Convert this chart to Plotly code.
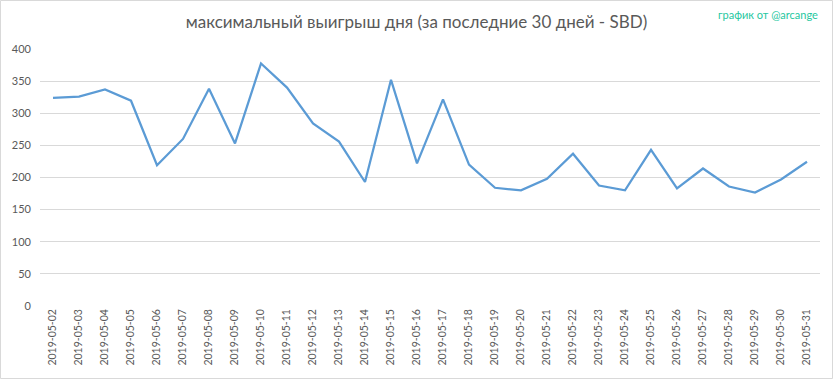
import plotly.graph_objects as go

dates = ["2019-05-%02d" % d for d in range(2, 32)]
values = [324, 326, 337, 319.5, 219, 260, 338, 253, 377.5, 340,
          284, 256, 193, 352, 222, 321.5, 220, 184, 180, 198,
          237, 187.5, 180, 243, 183, 214, 186, 176.5, 197, 224.5]
y_ticks = [0, 50, 100, 150, 200, 250, 300, 350, 400]

title_text = "максимальный выигрыш дня (за последние 30 дней - SBD)"
credit_text = "график от @arcange"

W, H = 833, 379
L, R, T, B = 40, 13, 49, 73
pw, ph = W - L - R, H - T - B

fig = go.Figure()
fig.add_trace(go.Scatter(
    x=dates, y=values, mode="lines",
    line=dict(color="#5b9bd5", width=2.25),
    hoverinfo="x+y",
))

fig.update_layout(
    width=W, height=H,
    margin=dict(l=L, r=R, t=T, b=B, autoexpand=False),
    paper_bgcolor="white", plot_bgcolor="white",
    showlegend=False,
    font=dict(family="Lato, Open Sans, sans-serif", color="#595959"),
    title=dict(text=title_text, x=0.5, xanchor="center", y=1 - 22 / H, yanchor="middle",
               font=dict(size=17, color="#595959", family="Lato, sans-serif")),
    xaxis=dict(type="category", range=[-0.5, len(dates) - 0.5], tickangle=-90,
               tickfont=dict(size=10.5, color="#595959"), automargin=False,
               showgrid=False, showline=False, ticks="", zeroline=False),
    yaxis=dict(range=[0, 400], tickvals=y_ticks, tickfont=dict(size=11, color="#595959"),
               showgrid=True, gridcolor="#d9d9d9", gridwidth=1, zeroline=False,
               showline=False, ticks="", ticklabelstandoff=8, automargin=False),
    annotations=[dict(text=credit_text, xref="paper", yref="paper", x=1.0, y=1.0,
                      xanchor="right", yanchor="middle", yshift=(T - 14), showarrow=False,
                      font=dict(size=11, color="#26c7a0", family="Lato, sans-serif"))],
    shapes=[dict(type="rect", xref="paper", yref="paper",
                 x0=(0.5 - L) / pw, x1=(W - 0.5 - L) / pw,
                 y0=-(B - 0.5) / ph, y1=1 + (T - 0.5) / ph,
                 line=dict(color="#d9d9d9", width=1))],
)

fig.write_html("out.html", config={"displayModeBar": False},
               post_script="document.body.style.margin='0';document.body.style.overflow='hidden';")
